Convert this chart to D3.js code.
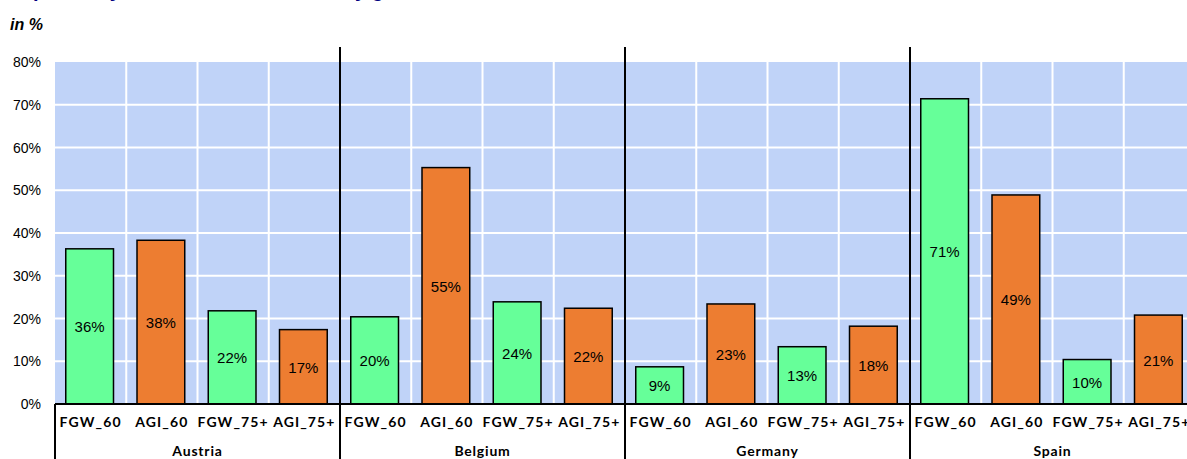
<!DOCTYPE html>
<html><head><meta charset="utf-8">
<script src="https://cdn.jsdelivr.net/npm/d3@7"></script>
<style>body{margin:0;background:#fff}svg{display:block}</style>
</head><body><svg id="c" width="1187" height="459"></svg>
<script>
const countries = ["Austria","Belgium","Germany","Spain"];
const measures = ["FGW_60","AGI_60","FGW_75+","AGI_75+"];
const valuesAustria = [36.3, 38.3, 21.8, 17.4];
const valuesBelgium = [20.4, 55.3, 23.9, 22.4];
const valuesGermany = [8.7, 23.4, 13.4, 18.2];
const valuesSpain = [71.4, 48.9, 10.4, 20.8];
const yTicks = [0,10,20,30,40,50,60,70,80];
const seriesColors = {"FGW_60":"#66FF99","AGI_60":"#ED7D31","FGW_75+":"#66FF99","AGI_75+":"#ED7D31"};

(function(){
const allValues = [valuesAustria, valuesBelgium, valuesGermany, valuesSpain];
const data = [];
countries.forEach((c,i)=>measures.forEach((m,j)=>data.push({country:c, measure:m, key:c+"|"+m, value:allValues[i][j]})));

const svg = d3.select("#c");
const pl = 55, pr = 1195, pt = 62, pb = 404;
const x = d3.scaleBand().domain(data.map(d=>d.key)).range([pl,pr]).paddingInner(0).paddingOuter(0);
const xc = d3.scaleBand().domain(countries).range([pl,pr]);
const y = d3.scaleLinear().domain([0,80]).range([pb,pt]);

// title (cropped off at top in the reference)
svg.append("text").attr("x",2).attr("y",-3).attr("font-family","Liberation Sans, Arial").attr("font-weight","bold")
  .attr("font-size",20).attr("fill","#000080").text("Help, mostly, at the home of an elderly grandchildren");

svg.append("text").attr("x",10).attr("y",30).attr("font-family","Liberation Sans, Arial").attr("font-weight","bold")
  .attr("font-style","italic").attr("font-size",16).text("in %");

// background
svg.append("rect").attr("x",pl).attr("y",pt).attr("width",pr-pl).attr("height",pb-pt).attr("fill","#C0D3F8");

// gridlines
svg.append("g").selectAll("line").data(yTicks.slice(1,-1)).join("line")
  .attr("x1",pl).attr("x2",pr).attr("y1",d=>y(d)).attr("y2",d=>y(d)).attr("stroke","#fff").attr("stroke-width",2);
svg.append("g").selectAll("line").data(data.slice(1)).join("line")
  .attr("x1",d=>x(d.key)).attr("x2",d=>x(d.key)).attr("y1",pt).attr("y2",pb).attr("stroke","#fff").attr("stroke-width",2);

// bars
const bw = x.bandwidth()*0.67;
svg.append("g").selectAll("rect").data(data).join("rect")
  .attr("x",d=>x(d.key)+(x.bandwidth()-bw)/2-1).attr("width",bw)
  .attr("y",d=>y(d.value)).attr("height",d=>y(0)-y(d.value))
  .attr("fill",d=>seriesColors[d.measure]).attr("stroke","#000").attr("stroke-width",1.5);

// value labels
svg.append("g").selectAll("text").data(data).join("text")
  .attr("x",d=>x(d.key)+x.bandwidth()/2-1).attr("y",d=>(y(d.value)+y(0))/2+6)
  .attr("text-anchor","middle").attr("font-family","Liberation Sans, Arial").attr("font-size",15)
  .text(d=>Math.round(d.value)+"%");

// y axis labels
svg.append("g").selectAll("text").data(yTicks).join("text")
  .attr("x",41).attr("y",d=>y(d)+5).attr("text-anchor","end")
  .attr("font-family","Liberation Sans, Arial").attr("font-size",14).text(d=>d+"%");

// x axis line
svg.append("line").attr("x1",pl).attr("x2",pr).attr("y1",pb).attr("y2",pb).attr("stroke","#000").attr("stroke-width",2);
svg.append("line").attr("x1",pl).attr("x2",pl).attr("y1",pb).attr("y2",459).attr("stroke","#000").attr("stroke-width",2);
// group separators
svg.append("g").selectAll("line").data(countries.slice(1)).join("line")
  .attr("x1",d=>xc(d)).attr("x2",d=>xc(d)).attr("y1",47).attr("y2",459).attr("stroke","#000").attr("stroke-width",2);

// category labels
svg.append("g").selectAll("text").data(data).join("text")
  .attr("x",d=>x(d.key)+x.bandwidth()/2).attr("y",427).attr("text-anchor","middle")
  .attr("font-family","Lato, Liberation Sans").attr("font-weight","bold").attr("font-size",14)
  .attr("letter-spacing","1.1px")
  .text(d=>d.measure);
svg.append("g").selectAll("text").data(countries).join("text")
  .attr("x",d=>xc(d)+xc.bandwidth()/2).attr("y",456).attr("text-anchor","middle")
  .attr("font-family","Lato, Liberation Sans").attr("font-weight","bold").attr("font-size",14)
  .attr("letter-spacing","0.8px")
  .text(d=>d);
})();
</script></body></html>
